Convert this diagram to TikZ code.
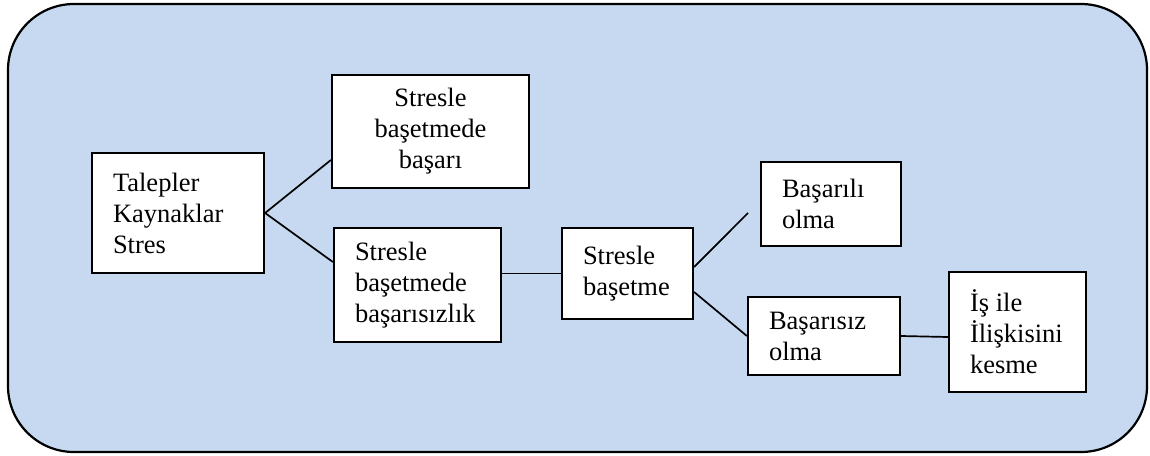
\documentclass[tikz,border=0pt]{standalone}
\usepackage{fontspec}
\setmainfont{Liberation Serif}
\definecolor{panelblue}{RGB}{198,217,241}
\begin{document}
\begin{tikzpicture}[x=1pt,y=-1pt,
  panel/.style={draw=black, line width=2.2pt, fill=panelblue, rounded corners=66pt},
  box/.style={draw=black, line width=2.2pt, fill=white, inner xsep=21pt, inner ysep=2pt,
    font=\fontsize{26.5}{31}\selectfont, align=flush left},
  link/.style={draw=black, line width=1.7pt}]
  \useasboundingbox (0,0) rectangle (1150,455);
  % background panel
  \path[panel] (8,4) rectangle (1147,452);

  % boxes
  \node[box, text width=130pt, minimum height=120pt] (demands) at (178,213)
    {Talepler\\Kaynaklar\\Stres};
  \node[box, text width=155pt, minimum height=113pt, align=flush center] (success) at (430.5,131.5)
    {Stresle\\başetmede\\başarı};
  \node[box, text width=125pt, minimum height=114pt] (failure) at (417.5,285)
    {Stresle\\başetmede\\başarısızlık};
  \node[box, text width=89pt, minimum height=91pt] (coping) at (627.5,273.5)
    {Stresle\\başetme};
  \node[box, text width=98pt, minimum height=84pt] (good) at (831,204)
    {Başarılı\\olma};
  \node[box, text width=110pt, minimum height=78pt] (bad) at (824,336)
    {Başarısız\\olma};
  \node[box, text width=95pt, minimum height=120pt] (quit) at (1017.5,332)
    {İş ile\\İlişkisini\\kesme};

  \coordinate (goodend) at (748,213);

  % connectors
  \draw[link] (demands.east) -- ([yshift=-28.5pt]success.west);
  \draw[link] (demands.east) -- ([yshift=23pt]failure.west);
  \draw[link] (failure.east |- coping.west) -- (coping.west);
  \draw[link] ([yshift=6.5pt]coping.east) -- (goodend);
  \draw[link] ([yshift=-18.5pt]coping.east) -- (bad.west);
  \draw[link] (bad.east) -- ([yshift=-1pt]quit.west |- bad.east);
\end{tikzpicture}
\end{document}
